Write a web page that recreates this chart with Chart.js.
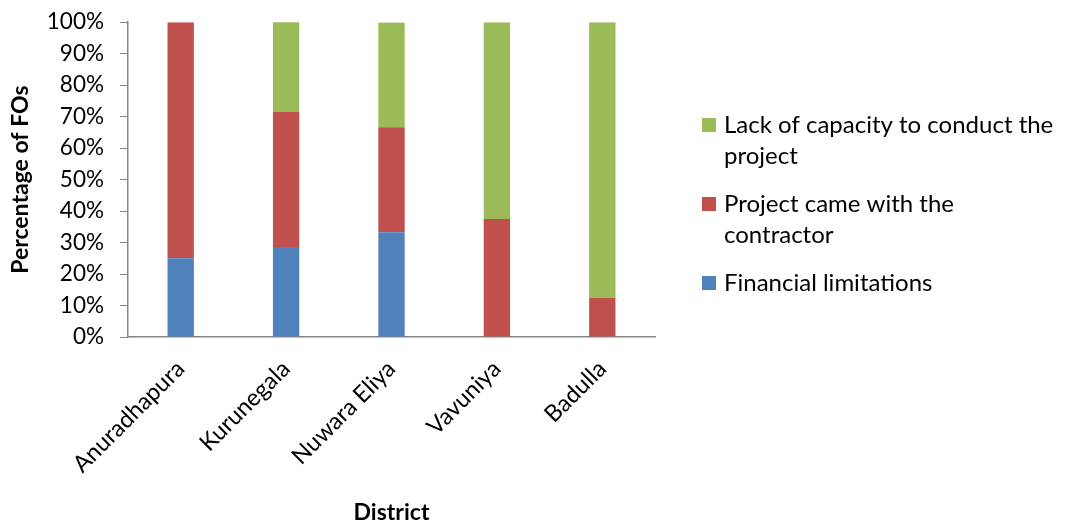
<!DOCTYPE html>
<html>
<head>
<meta charset="utf-8">
<script src="https://cdn.jsdelivr.net/npm/chart.js@4.4.1/dist/chart.umd.min.js"></script>
<style>
  html, body { margin: 0; padding: 0; background: #ffffff; }
  #wrap { width: 1067px; height: 526px; position: relative; }
</style>
</head>
<body>
<div id="wrap"><canvas id="c" width="1067" height="526"></canvas></div>
<script>
const categories = ["Anuradhapura", "Kurunegala", "Nuwara Eliya", "Vavuniya", "Badulla"];
const financialLimitations = [25.0, 28.6, 33.3, 0, 0];
const projectWithContractor = [75.0, 42.9, 33.3, 37.5, 12.5];
const lackOfCapacity = [0, 28.6, 33.3, 62.5, 87.5];
const seriesLines = [
  ["Financial limitations"],
  ["Project came with the", "contractor"],
  ["Lack of capacity to conduct the", "project"]
];
const seriesColors = ["#4F81BD", "#C0504D", "#9BBB59"];
const yTicks = [0, 10, 20, 30, 40, 50, 60, 70, 80, 90, 100];
const yTitle = "Percentage of FOs";
const xTitle = "District";

const FONT = "Lato, 'Open Sans', sans-serif";
const AXIS = "#868686";

const legendPlugin = {
  id: "sideLegend",
  afterDraw(chart) {
    const ctx = chart.ctx;
    ctx.save();
    ctx.font = "24px " + FONT;
    ctx.textBaseline = "middle";
    ctx.textAlign = "left";
    let y = 125;
    const items = chart.data.datasets.map((d, i) => ({ color: d.backgroundColor, lines: seriesLines[i] })).reverse();
    items.forEach(it => {
      ctx.fillStyle = it.color;
      ctx.fillRect(702, y - 7, 14, 14);
      ctx.fillStyle = "#000000";
      it.lines.forEach((ln, k) => {
        ctx.fillText(ln, 724, y + k * 31);
      });
      y += (it.lines.length - 1) * 31 + 48;
    });
    ctx.restore();
  }
};

new Chart(document.getElementById("c"), {
  type: "bar",
  data: {
    labels: categories,
    datasets: [
      { label: seriesLines[0].join(" "), data: financialLimitations, backgroundColor: seriesColors[0] },
      { label: seriesLines[1].join(" "), data: projectWithContractor, backgroundColor: seriesColors[1] },
      { label: seriesLines[2].join(" "), data: lackOfCapacity, backgroundColor: seriesColors[2] }
    ]
  },
  options: {
    responsive: false,
    animation: false,
    devicePixelRatio: 1,
    layout: { padding: { left: 0, right: 412, top: 0, bottom: 0 } },
    datasets: { bar: { barPercentage: 0.25, categoryPercentage: 1.0, borderWidth: 0 } },
    plugins: {
      legend: { display: false },
      tooltip: { enabled: false }
    },
    scales: {
      x: {
        stacked: true,
        grid: { display: false },
        border: { display: true, color: AXIS, width: 1.5 },
        ticks: {
          color: "#000000",
          font: { family: FONT, size: 23.5 },
          maxRotation: 45, minRotation: 45,
          padding: 10
        },
        title: {
          display: true, text: xTitle, color: "#000000",
          font: { family: FONT, size: 23, weight: "bold" },
          padding: { top: 0, bottom: 0 }
        },
        afterFit(scale) { scale.height = 526 - 337; }
      },
      y: {
        stacked: true,
        min: 0, max: 100,
        afterBuildTicks(scale) { scale.ticks = yTicks.map(v => ({ value: v })); },
        grid: { display: true, drawOnChartArea: false, drawTicks: true, tickLength: 8, color: AXIS, lineWidth: 1 },
        border: { display: true, color: AXIS, width: 1.5 },
        ticks: {
          color: "#000000",
          font: { family: FONT, size: 22.5, lineHeight: 0.55 },
          padding: 16,
          callback: v => v + "%"
        },
        title: {
          display: true, text: yTitle, color: "#000000",
          font: { family: FONT, size: 23, weight: "bold" },
          padding: { top: 7, bottom: 4 }
        },
        afterFit(scale) { scale.width = 128; }
      }
    }
  },
  plugins: [legendPlugin]
});
</script>
</body>
</html>
